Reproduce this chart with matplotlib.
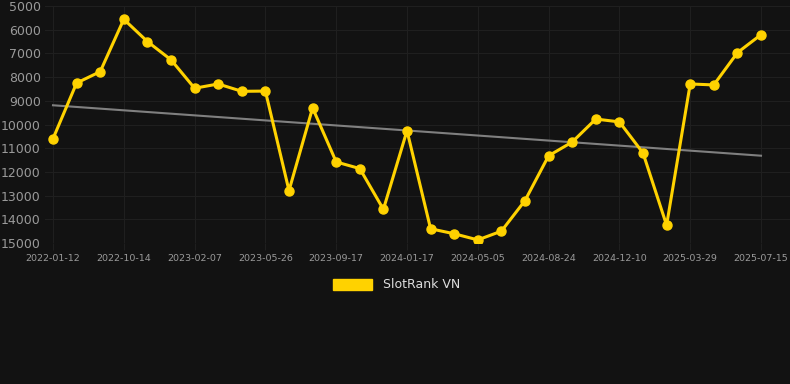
import numpy as np
import matplotlib.pyplot as plt
from matplotlib.patches import Rectangle

# SlotRank VN rank history (lower rank number = better, axis inverted)
tick_labels = ['2022-01-12', '2022-10-14', '2023-02-07', '2023-05-26',
               '2023-09-17', '2024-01-17', '2024-05-05', '2024-08-24',
               '2024-12-10', '2025-03-29', '2025-07-15']
rank = [10600, 8250, 7770, 5560, 6500, 7270, 8470, 8290, 8600, 8590,
        12790, 9300, 11580, 11860, 13580, 10260, 14400, 14610, 14870, 14500,
        13210, 11320, 10740, 9770, 9890, 11200, 14250, 8290, 8330, 6970,
        6210]
y_ticks = [5000, 6000, 7000, 8000, 9000, 10000, 11000, 12000, 13000, 14000, 15000]

bg = '#121212'
gold = '#FFD200'

W, H = 790, 384
fig = plt.figure(figsize=(W / 100, H / 100), dpi=100, facecolor=bg)
ax = fig.add_axes([45 / W, 1 - 243 / H, (790 - 45) / W, (243 - 6) / H])
ax.set_facecolor(bg)

x = np.arange(len(rank))
slope, intercept = np.polyfit(x, rank, 1)
ax.plot(x, slope * x + intercept, color='#808080', lw=1.5, zorder=2)
ax.plot(x, rank, color=gold, lw=2.2, marker='o', ms=6.5, zorder=3,
        label='SlotRank VN')

step = 23.6
ax.set_xlim(-(53 - 45) / step, 30 + (790 - 761) / step)
ax.set_ylim(15000, 5000)
ax.set_yticks(y_ticks)
ax.set_xticks(x[::3])
ax.set_xticklabels(tick_labels)

ax.grid(True, color='#1f1f1f', lw=0.8)
ax.set_axisbelow(True)
for s in ax.spines.values():
    s.set_visible(False)
ax.tick_params(axis='y', length=0, pad=3, labelsize=9, labelcolor='#9a9a9a')
ax.tick_params(axis='x', length=5, color='#1f1f1f', pad=3, labelsize=6.8,
               labelcolor='#9a9a9a')

leg = fig.legend(loc='center', bbox_to_anchor=(0.5, 1 - 284 / H), frameon=False,
                 handlelength=3.5, handleheight=1.0, fontsize=9,
                 labelcolor='#dddddd')
# legend swatch drawn as a filled block
for h in leg.legend_handles:
    h.set_visible(False)
fig.patches.append(Rectangle((333 / W, 1 - 290 / H), 39 / W, 11 / H,
                             transform=fig.transFigure, color=gold))

fig.savefig('out.png', dpi=100, facecolor=bg)
